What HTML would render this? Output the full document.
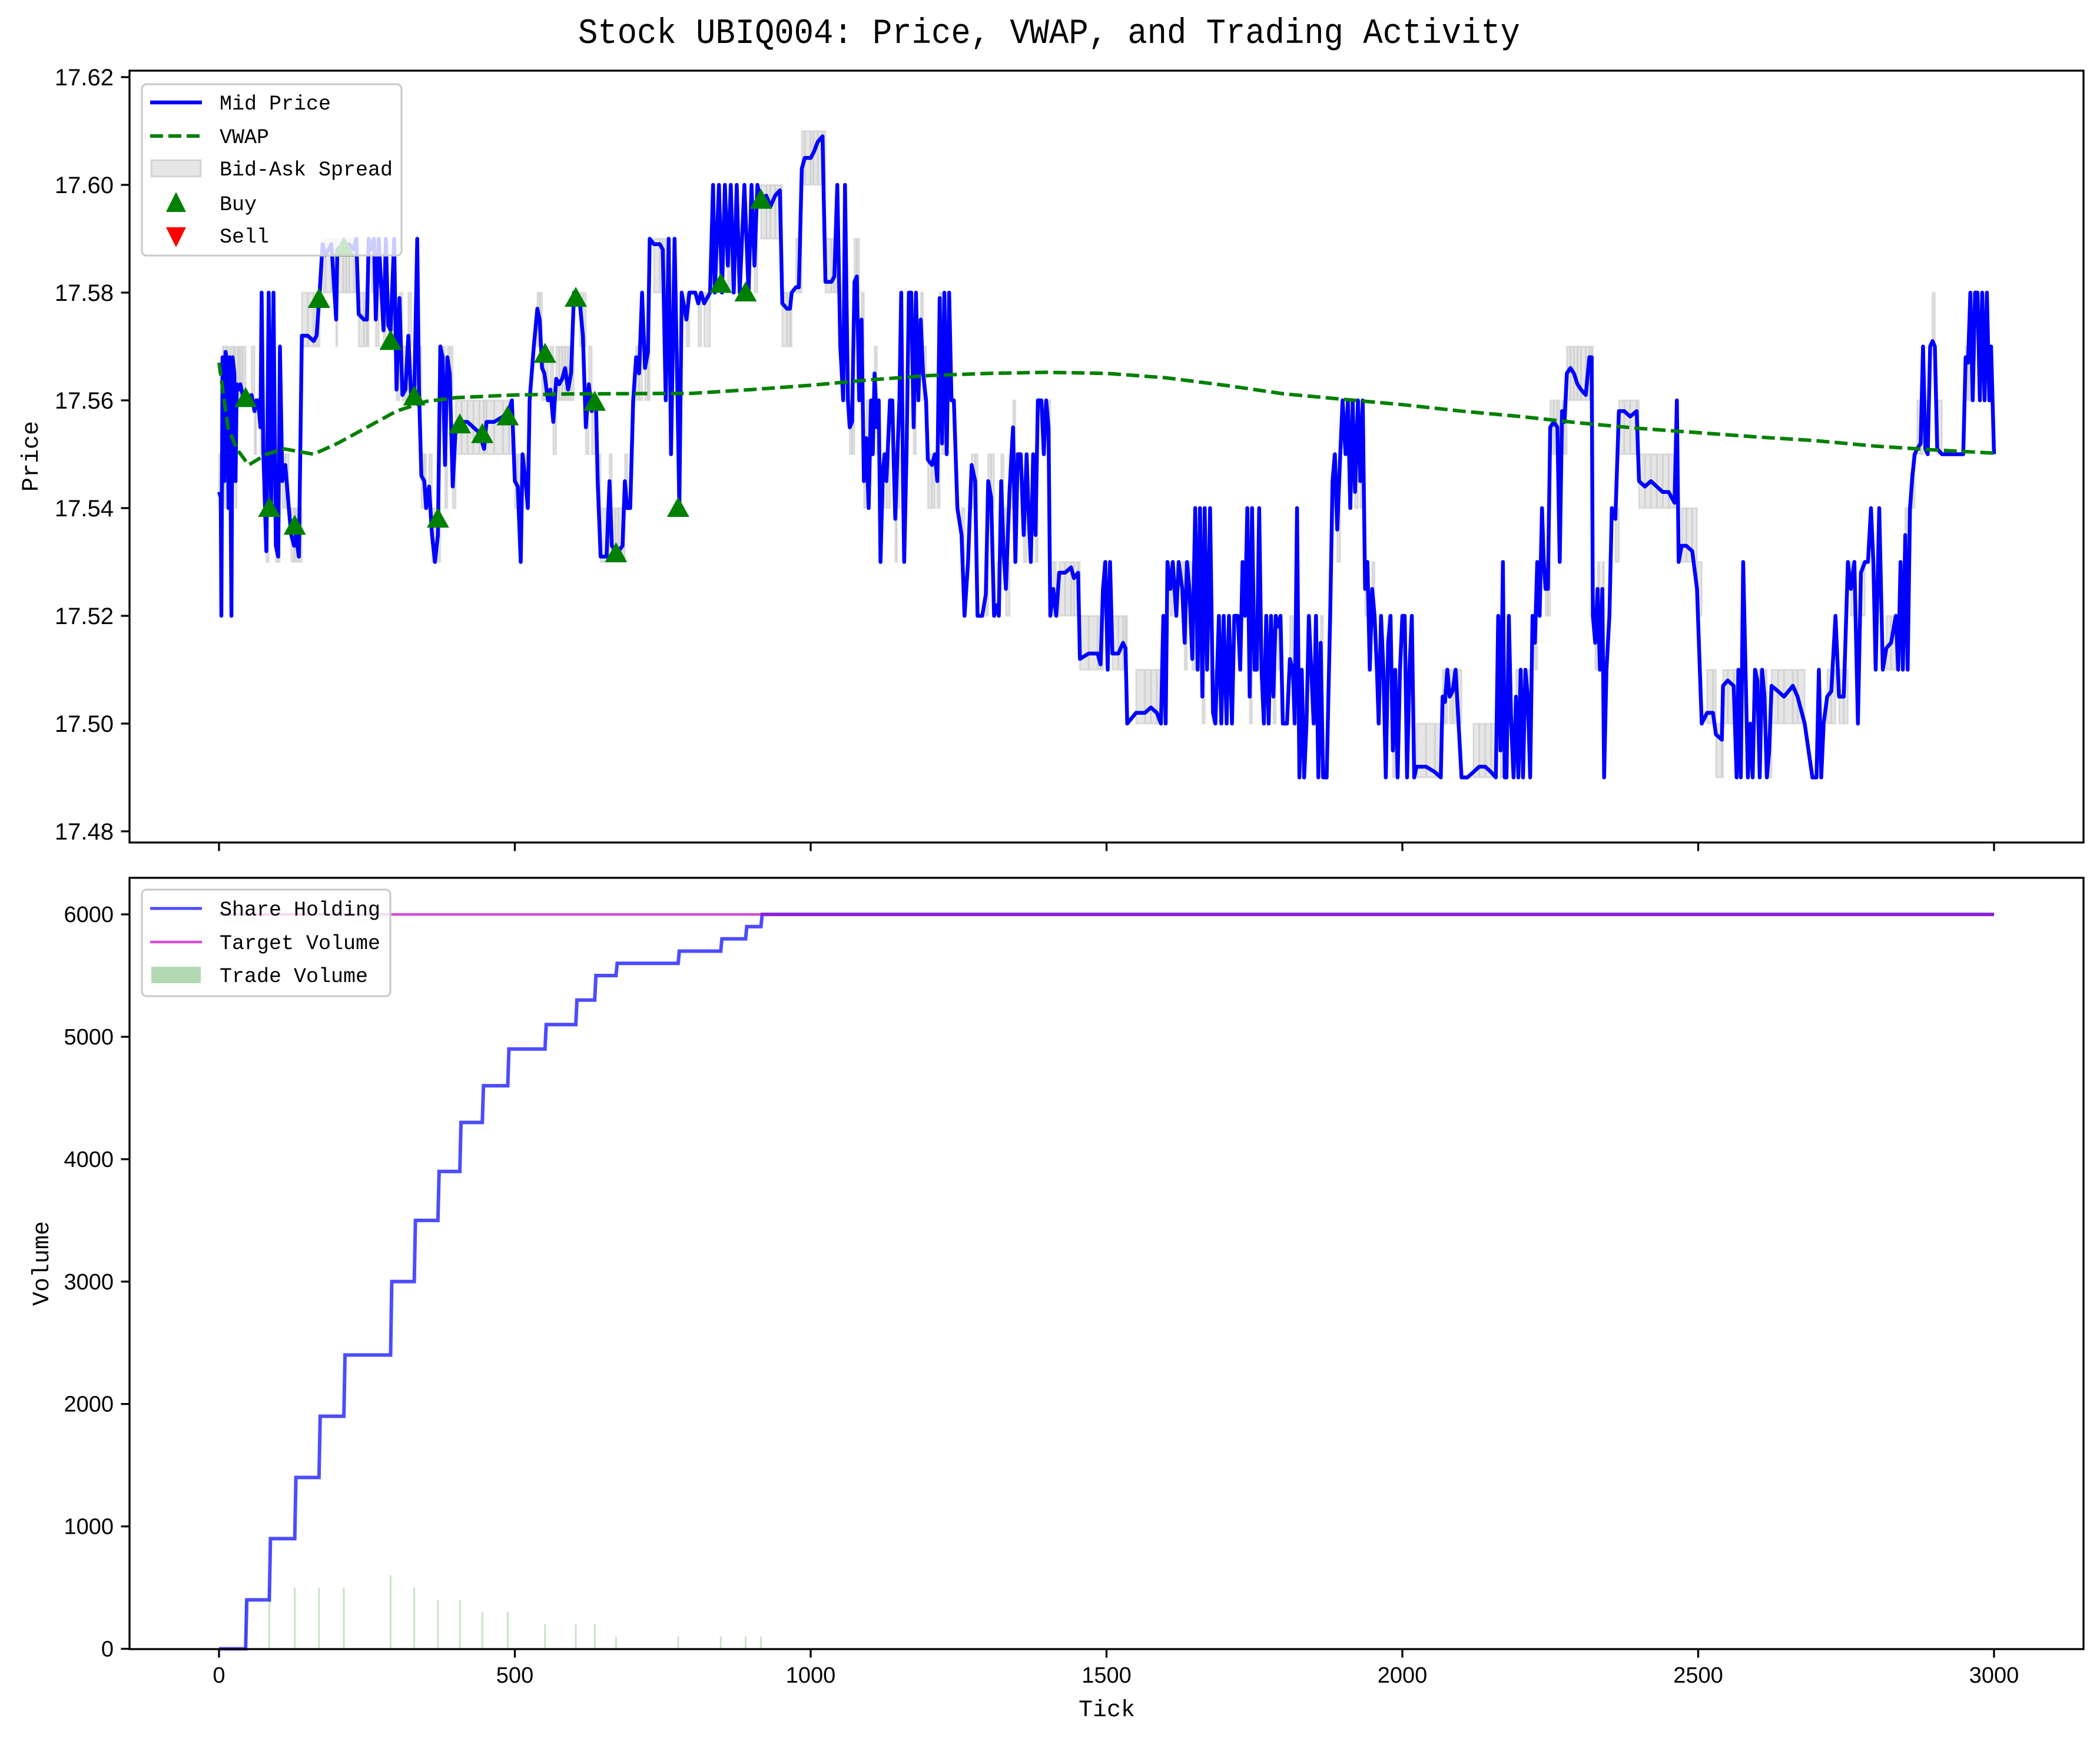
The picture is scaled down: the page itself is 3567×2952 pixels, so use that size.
<!DOCTYPE html>
<html><head><meta charset="utf-8"><style>
html,body{margin:0;padding:0;background:#fff}
svg{display:block}
text{font-family:"Liberation Sans","WenQuanYi Zen Hei",sans-serif;fill:#000}
.mono{font-family:"Liberation Mono","WenQuanYi Zen Hei",monospace}
</style></head><body>
<svg id="chart" xmlns="http://www.w3.org/2000/svg" width="3567" height="2952" viewBox="0 0 3567 2952">
<rect x="0" y="0" width="3567" height="2952" fill="#fff"/>
<text class="mono" x="1782" y="73" font-size="60" text-anchor="middle" textLength="1600" lengthAdjust="spacingAndGlyphs">Stock UBIQ004: Price, VWAP, and Trading Activity</text>
<g id="top-panel"></g><g id="bot-panel"></g>
</svg>
<script>
const midTicks=[0,3,4,6,9,11,14,16,18,21,23,26,28,30,33,36,40,45,55,60,63,66,70,72,75,80,84,88,92,96,100,103,107,112,118,122,127,130,135,140,150,160,165,170,175,180,190,198,200,210,215,220,228,232,236,245,250,253,258,262,265,270,278,282,286,290,296,300,305,310,315,320,325,330,335,338,342,347,350,355,360,365,370,374,378,382,386,390,395,400,410,420,430,440,448,452,465,480,490,495,500,505,510,513,518,522,525,532,538,542,546,550,556,560,565,570,575,580,585,590,595,600,610,615,620,625,630,637,640,645,655,660,664,670,675,682,686,690,695,700,705,710,715,720,725,728,735,745,750,755,760,764,770,775,778,782,790,795,805,810,815,820,830,835,838,845,850,855,860,865,870,875,880,888,895,900,905,910,916,925,932,940,948,952,960,965,968,975,980,985,990,1000,1005,1012,1020,1025,1035,1040,1045,1050,1055,1058,1063,1066,1070,1074,1078,1082,1086,1090,1094,1098,1102,1105,1108,1112,1115,1118,1122,1125,1128,1134,1138,1140,1143,1146,1150,1153,1156,1158,1162,1166,1170,1174,1178,1182,1186,1190,1195,1198,1205,1210,1214,1218,1222,1226,1230,1234,1238,1242,1248,1255,1260,1266,1272,1278,1282,1290,1296,1300,1305,1310,1315,1318,1322,1326,1330,1336,1342,1346,1350,1355,1360,1365,1368,1372,1376,1380,1384,1390,1394,1398,1402,1405,1410,1415,1420,1430,1440,1445,1452,1455,1470,1485,1490,1494,1498,1502,1506,1510,1520,1528,1532,1535,1550,1565,1575,1585,1592,1596,1600,1603,1608,1612,1618,1622,1628,1632,1636,1640,1645,1650,1654,1658,1662,1666,1670,1675,1680,1684,1690,1694,1698,1703,1707,1712,1716,1722,1726,1730,1734,1738,1742,1746,1750,1754,1758,1762,1766,1770,1774,1778,1782,1786,1790,1794,1798,1805,1810,1815,1818,1822,1826,1830,1834,1838,1842,1846,1850,1854,1858,1862,1866,1872,1878,1882,1886,1890,1895,1899,1904,1908,1912,1916,1920,1925,1929,1933,1937,1941,1945,1949,1953,1957,1960,1964,1968,1972,1976,1980,1984,1988,1992,1996,2000,2004,2008,2012,2016,2020,2024,2040,2055,2065,2068,2072,2076,2080,2085,2090,2094,2100,2110,2120,2130,2140,2150,2158,2162,2166,2170,2173,2176,2180,2184,2188,2192,2196,2200,2204,2208,2212,2216,2220,2224,2228,2232,2236,2239,2242,2246,2250,2256,2262,2266,2270,2274,2278,2284,2290,2296,2302,2310,2316,2320,2322,2326,2330,2334,2338,2341,2345,2350,2354,2360,2366,2375,2385,2396,2400,2410,2420,2430,2440,2450,2460,2464,2467,2472,2480,2490,2498,2506,2515,2525,2530,2540,2542,2550,2560,2565,2568,2572,2576,2580,2584,2588,2592,2596,2600,2604,2608,2612,2616,2620,2624,2635,2645,2660,2668,2680,2693,2700,2704,2708,2712,2718,2725,2732,2738,2746,2753,2758,2764,2770,2775,2782,2787,2792,2796,2800,2806,2812,2818,2826,2834,2838,2842,2846,2850,2854,2858,2862,2866,2870,2876,2880,2884,2888,2892,2896,2900,2904,2912,2920,2930,2940,2948,2952,2956,2960,2964,2968,2972,2976,2980,2984,2988,2992,2995,3000];
const midPrices=[17.543,17.542,17.52,17.568,17.545,17.569,17.567,17.54,17.568,17.52,17.568,17.565,17.545,17.563,17.562,17.563,17.561,17.56,17.561,17.558,17.56,17.56,17.555,17.58,17.55,17.532,17.58,17.54,17.58,17.533,17.531,17.57,17.545,17.548,17.54,17.535,17.533,17.535,17.531,17.572,17.572,17.571,17.572,17.58,17.589,17.587,17.589,17.575,17.588,17.589,17.588,17.589,17.588,17.59,17.576,17.575,17.575,17.59,17.588,17.59,17.575,17.59,17.573,17.59,17.574,17.573,17.59,17.562,17.579,17.561,17.562,17.572,17.56,17.561,17.59,17.562,17.546,17.545,17.54,17.544,17.535,17.53,17.535,17.57,17.568,17.548,17.568,17.565,17.544,17.555,17.556,17.556,17.555,17.554,17.551,17.556,17.556,17.557,17.558,17.56,17.545,17.544,17.53,17.55,17.545,17.54,17.56,17.57,17.577,17.575,17.566,17.565,17.56,17.562,17.556,17.564,17.563,17.564,17.566,17.562,17.565,17.58,17.578,17.572,17.555,17.563,17.558,17.56,17.545,17.531,17.531,17.545,17.533,17.532,17.532,17.533,17.545,17.54,17.54,17.56,17.568,17.565,17.58,17.566,17.569,17.59,17.589,17.589,17.588,17.56,17.59,17.55,17.59,17.56,17.54,17.58,17.575,17.58,17.58,17.578,17.58,17.578,17.58,17.6,17.58,17.6,17.58,17.6,17.585,17.6,17.58,17.6,17.58,17.6,17.58,17.6,17.585,17.6,17.597,17.598,17.596,17.598,17.599,17.578,17.577,17.577,17.58,17.581,17.581,17.603,17.605,17.605,17.606,17.608,17.609,17.582,17.582,17.583,17.6,17.57,17.56,17.6,17.56,17.555,17.556,17.582,17.583,17.56,17.575,17.545,17.553,17.54,17.56,17.55,17.565,17.555,17.56,17.53,17.547,17.55,17.545,17.56,17.56,17.55,17.538,17.548,17.56,17.58,17.545,17.53,17.55,17.58,17.58,17.555,17.58,17.56,17.575,17.565,17.56,17.549,17.548,17.55,17.545,17.579,17.552,17.58,17.55,17.58,17.56,17.56,17.54,17.535,17.52,17.53,17.548,17.545,17.52,17.52,17.524,17.545,17.542,17.52,17.522,17.52,17.545,17.532,17.525,17.543,17.555,17.53,17.55,17.55,17.535,17.55,17.54,17.53,17.55,17.535,17.56,17.56,17.55,17.56,17.555,17.52,17.525,17.52,17.528,17.528,17.529,17.527,17.528,17.512,17.513,17.513,17.511,17.525,17.53,17.51,17.53,17.513,17.513,17.515,17.514,17.5,17.502,17.502,17.503,17.502,17.5,17.52,17.5,17.53,17.525,17.53,17.52,17.53,17.525,17.515,17.53,17.525,17.512,17.54,17.51,17.54,17.505,17.54,17.51,17.54,17.502,17.5,17.52,17.5,17.52,17.5,17.52,17.5,17.52,17.52,17.51,17.53,17.52,17.54,17.505,17.54,17.51,17.51,17.54,17.51,17.5,17.52,17.5,17.52,17.505,17.52,17.518,17.52,17.5,17.5,17.512,17.51,17.5,17.54,17.49,17.51,17.49,17.5,17.52,17.51,17.5,17.52,17.49,17.515,17.49,17.49,17.52,17.545,17.55,17.536,17.55,17.56,17.55,17.56,17.54,17.56,17.543,17.56,17.545,17.56,17.525,17.53,17.51,17.525,17.52,17.51,17.5,17.52,17.51,17.49,17.515,17.52,17.495,17.51,17.49,17.51,17.52,17.52,17.49,17.51,17.52,17.49,17.492,17.492,17.491,17.49,17.505,17.504,17.51,17.505,17.506,17.51,17.502,17.49,17.49,17.491,17.492,17.492,17.491,17.49,17.52,17.495,17.53,17.49,17.49,17.52,17.5,17.49,17.505,17.49,17.51,17.49,17.51,17.505,17.49,17.52,17.515,17.53,17.52,17.54,17.53,17.525,17.525,17.555,17.556,17.555,17.53,17.558,17.556,17.565,17.566,17.565,17.563,17.562,17.561,17.568,17.568,17.52,17.515,17.525,17.51,17.525,17.49,17.51,17.52,17.54,17.538,17.558,17.558,17.557,17.558,17.545,17.544,17.545,17.544,17.543,17.543,17.541,17.56,17.53,17.533,17.533,17.532,17.525,17.5,17.502,17.502,17.498,17.497,17.507,17.508,17.507,17.49,17.51,17.49,17.53,17.51,17.49,17.5,17.49,17.51,17.508,17.49,17.51,17.505,17.49,17.495,17.507,17.506,17.505,17.507,17.505,17.5,17.49,17.49,17.51,17.49,17.5,17.505,17.506,17.52,17.505,17.505,17.53,17.525,17.53,17.5,17.528,17.53,17.53,17.54,17.53,17.51,17.54,17.51,17.514,17.515,17.52,17.51,17.53,17.51,17.535,17.51,17.54,17.546,17.55,17.551,17.552,17.57,17.551,17.55,17.57,17.571,17.57,17.551,17.55,17.55,17.55,17.55,17.55,17.568,17.567,17.58,17.56,17.58,17.58,17.56,17.58,17.56,17.58,17.56,17.57,17.55];
const vwapTicks=[0,15,30,50,80,110,160,200,250,300,350,400,500,600,800,900,1000,1100,1200,1300,1400,1500,1600,1700,1800,1900,2000,2100,2200,2300,2400,2500,2600,2700,2800,2900,3000];
const vwapValues=[17.567,17.555,17.551,17.548,17.55,17.551,17.55,17.552,17.555,17.558,17.5598,17.5605,17.561,17.5612,17.5613,17.562,17.5628,17.5638,17.5646,17.565,17.5652,17.565,17.5642,17.5628,17.5612,17.5602,17.5592,17.558,17.557,17.5558,17.5548,17.554,17.5532,17.5525,17.5515,17.5508,17.5502];
const tradeTicks=[45,85,128,169,211,290,330,370,407,445,488,551,603,635,671,776,848,890,916];
const tradeVolumes=[400,500,500,500,500,600,500,400,400,300,300,200,200,200,100,100,100,100,100];
const buyPrices=[17.5604,17.54,17.5367,17.5788,17.5883,17.571,17.5607,17.538,17.5555,17.5537,17.557,17.5686,17.579,17.5597,17.5316,17.54,17.5816,17.58,17.5972];
const targetVolume=6000;
const priceTicks=[17.48,17.50,17.52,17.54,17.56,17.58,17.60,17.62];
const volTicks=[0,1000,2000,3000,4000,5000,6000];
const xTicks=[0,500,1000,1500,2000,2500,3000];

const NS='http://www.w3.org/2000/svg';
const L=220,R=3539,T1=120,B1=1431,T2=1491,B2=2801;
const xs=t=>372+t*1.005;
const yp=p=>131+(17.62-p)*9150;
const yv=v=>2800.5-v*0.2079;
function mk(tag,attrs,parent){const e=document.createElementNS(NS,tag);for(const k in attrs)e.setAttribute(k,attrs[k]);parent.appendChild(e);return e;}
const gTop=document.getElementById('top-panel'),gBot=document.getElementById('bot-panel');





const defs=mk('defs',{},document.getElementById('chart'));
const c1=mk('clipPath',{id:'c1'},defs);mk('rect',{x:L,y:T1,width:R-L,height:B1-T1},c1);

const nMid=Math.min(midTicks.length,midPrices.length);
const gSpread=mk('g',{'clip-path':'url(#c1)'},gTop);


let sp='';
for(let i=0;i<nMid-1;i++){
  const p=midPrices[i];const bid=Math.floor(p*100+1e-6)/100, ask=Math.ceil(p*100-1e-6)/100;
  if(ask-bid<0.001)continue;
  const x0=xs(midTicks[i]),x1=xs(midTicks[i+1]);
  sp+=`M${x0},${yp(ask)}H${x1}V${yp(bid)}H${x0}Z`;
}
mk('path',{d:sp,fill:'rgba(128,128,128,0.2)',stroke:'rgba(128,128,128,0.2)','stroke-width':3},gSpread);

let d='';
for(let i=0;i<nMid;i++){d+=(i?'L':'M')+xs(midTicks[i]).toFixed(1)+','+yp(midPrices[i]).toFixed(1);}
const mid=mk('path',{d:d,fill:'none',stroke:'#0000ff','stroke-width':6.5,'stroke-linejoin':'round','clip-path':'url(#c1)'},gTop);



d='';vwapTicks.forEach((t,i)=>{d+=(i?'L':'M')+xs(t).toFixed(1)+','+yp(vwapValues[i]).toFixed(1);});
const vw=mk('path',{d:d,fill:'none',stroke:'#008000','stroke-width':6,'stroke-dasharray':'22,9'},gTop);



tradeTicks.forEach((t,i)=>{const x=xs(t),y=yp(buyPrices[i]);
  const m=mk('path',{d:`M${x},${y-19}L${x+19},${y+15}L${x-19},${y+15}Z`,fill:'#008000'},gTop);
  
  
});

tradeTicks.forEach((t,i)=>{
  const b=mk('rect',{x:xs(t)-1.5,y:yv(tradeVolumes[i]),width:3,height:yv(0)-yv(tradeVolumes[i]),fill:'rgba(0,128,0,0.22)'},gBot);
  
  
});
let h=0;d='M'+xs(0)+','+yv(0);
tradeTicks.forEach((t,i)=>{d+='L'+xs(t)+','+yv(h);h+=tradeVolumes[i];d+='L'+(xs(t)+2)+','+yv(h);});
d+='L'+xs(3000)+','+yv(h);
const hl=mk('path',{d:d,fill:'none',stroke:'#0000ff','stroke-opacity':0.7,'stroke-width':6},gBot);


const tg=mk('line',{x1:xs(0),x2:xs(3000),y1:yv(targetVolume),y2:yv(targetVolume),stroke:'#c000c0','stroke-opacity':0.7,'stroke-width':4.5},gBot);



[[T1,B1,gTop],[T2,B2,gBot]].forEach(([t,b,g])=>{
  const f=mk('rect',{x:L,y:t,width:R-L,height:b-t,fill:'none',stroke:'#000','stroke-width':3.3},g);
  
  
  xTicks.forEach(v=>{mk('line',{x1:xs(v),x2:xs(v),y1:b,y2:b+14.5,stroke:'#000','stroke-width':3.3},g);});
});
xTicks.forEach(v=>{
  const tx=mk('text',{x:xs(v),y:2858,'font-size':38,'text-anchor':'middle'},gBot);tx.textContent=v;
  
  
});
priceTicks.forEach(v=>{const y=yp(v);
  mk('line',{x1:L,x2:L-14.5,y1:y,y2:y,stroke:'#000','stroke-width':3.3},gTop);
  const tx=mk('text',{x:193,y:y+14,'font-size':40,'text-anchor':'end'},gTop);tx.textContent=v.toFixed(2);
  
  
});
volTicks.forEach(v=>{const y=yv(v);
  mk('line',{x1:L,x2:L-14.5,y1:y,y2:y,stroke:'#000','stroke-width':3.3},gBot);
  const tx=mk('text',{x:193,y:y+13,'font-size':38,'text-anchor':'end'},gBot);tx.textContent=v;
  
  
});
function label(txt,x,y,rot,name,g){const e=mk('text',{x:x,y:y,'font-size':40,'text-anchor':'middle','class':'mono'},g);
  if(rot)e.setAttribute('transform',`rotate(-90 ${x} ${y})`);
  e.textContent=txt;
  
  }
label('Price',64,775,true,'y-axis-title-price',gTop);
label('Volume',82,2146,true,'y-axis-title-volume',gBot);
label('Tick',1880,2915,false,'x-axis-title',gBot);

function legendBox(x,y,w,hh,g,name){const r=mk('rect',{x:x,y:y,width:w,height:hh,rx:8,fill:'rgba(255,255,255,0.8)',stroke:'#cccccc','stroke-width':3.3},g);
  
  }
function legText(txt,y,g){const e=mk('text',{x:373,y:y+12,'font-size':35,'class':'mono'},g);e.textContent=txt;
  
  }
const lg1=mk('g',{},gTop);


legendBox(241,143,441,291,lg1,'price-legend-box');
mk('line',{x1:255,x2:343,y1:174,y2:174,stroke:'#0000ff','stroke-width':6.5},lg1);legText('Mid Price',174,lg1);
mk('line',{x1:255,x2:343,y1:231,y2:231,stroke:'#008000','stroke-width':6,'stroke-dasharray':'22,9'},lg1);legText('VWAP',231,lg1);
mk('rect',{x:257,y:272,width:84,height:28,fill:'rgba(128,128,128,0.2)',stroke:'rgba(128,128,128,0.25)','stroke-width':3},lg1);legText('Bid-Ask Spread',286,lg1);
mk('path',{d:'M299,326L316,360L282,360Z',fill:'#008000'},lg1);legText('Buy',345,lg1);
mk('path',{d:'M282,386L316,386L299,420Z',fill:'#ff0000'},lg1);legText('Sell',400,lg1);
const lg2=mk('g',{},gBot);


legendBox(241,1511,422,181,lg2,'volume-legend-box');
mk('line',{x1:255,x2:343,y1:1543,y2:1543,stroke:'#4c4cff','stroke-width':5},lg2);legText('Share Holding',1543,lg2);
mk('line',{x1:255,x2:343,y1:1600,y2:1600,stroke:'#d24fd2','stroke-width':4.5},lg2);legText('Target Volume',1600,lg2);
mk('rect',{x:257,y:1642,width:84,height:28,fill:'rgba(0,128,0,0.3)'},lg2);legText('Trade Volume',1656,lg2);
</script>
</body></html>
